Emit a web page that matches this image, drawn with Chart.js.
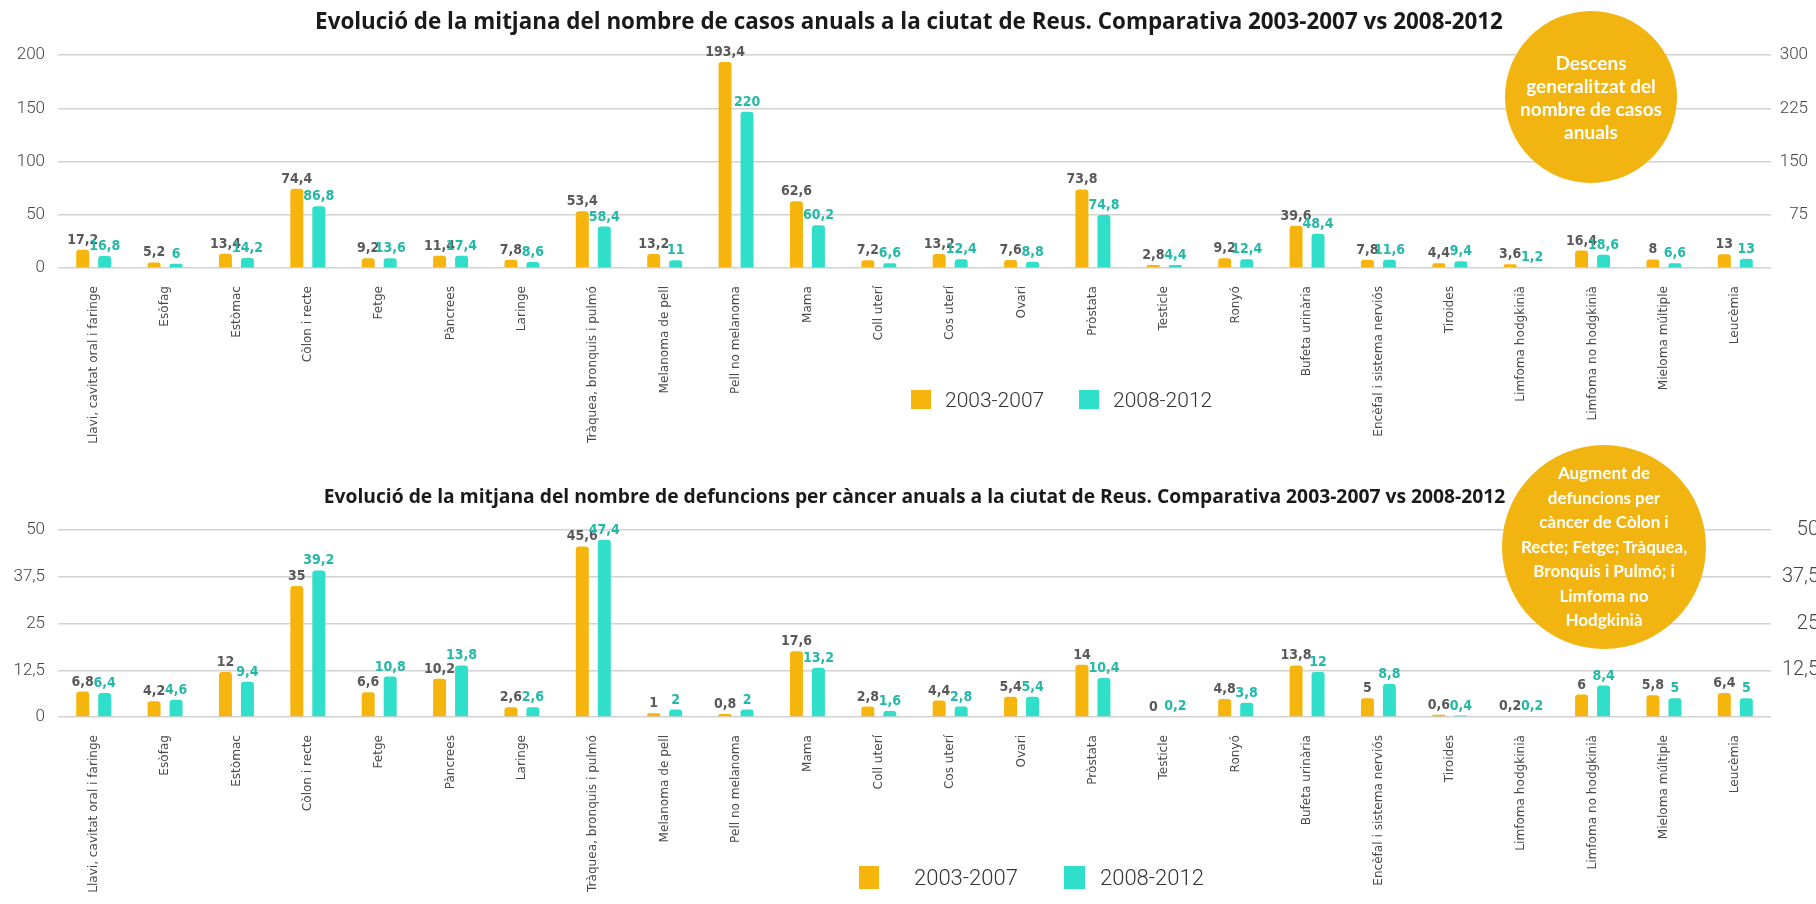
<!DOCTYPE html>
<html>
<head>
<meta charset="utf-8">
<script src="https://cdn.jsdelivr.net/npm/chart.js@4.4.1/dist/chart.umd.min.js"></script>
<style>
  html, body { margin: 0; padding: 0; background: #fff; }
  body { position: relative; width: 1816px; height: 904px; overflow: hidden; }
  canvas { position: absolute; left: 0; }
  #casos { top: 0; }
  #defuncions { top: 450px; }
  .circle {
    position: absolute; border-radius: 50%; background: #F2B410; color: #fff;
    font-family: Lato, sans-serif; font-weight: bold; text-align: center;
    display: flex; align-items: center; justify-content: center;
  }
  .box { position: absolute; }
  .leg { position: absolute; font-family: Roboto, sans-serif; font-weight: 300; color: #333; line-height: 1; }
</style>
</head>
<body>
<canvas id="casos" width="1816" height="450"></canvas>
<canvas id="defuncions" width="1822" height="454"></canvas>

<div class="circle" style="left:1505px; top:11px; width:172px; height:172px; font-size:19px; line-height:23px;">Descens<br>generalitzat del<br>nombre de casos<br>anuals</div>
<div class="circle" style="left:1502px; top:445px; width:204px; height:204px; font-size:17px; line-height:24.5px;">Augment de<br>defuncions per<br>càncer de Còlon i<br>Recte; Fetge; Tràquea,<br>Bronquis i Pulmó; i<br>Limfoma no<br>Hodgkinià</div>

<div class="box" style="left:911px; top:390px; width:20px; height:19px; background:#F5B50C;"></div>
<div class="leg" style="left:945px; top:390px; font-size:21px;">2003-2007</div>
<div class="box" style="left:1079px; top:390px; width:20px; height:19px; background:#30DFC9;"></div>
<div class="leg" style="left:1113px; top:390px; font-size:21px;">2008-2012</div>

<div class="box" style="left:859px; top:866px; width:20px; height:23px; background:#F5B50C;"></div>
<div class="leg" style="left:914px; top:867px; font-size:22px;">2003-2007</div>
<div class="box" style="left:1064px; top:866px; width:21px; height:23px; background:#30DFC9;"></div>
<div class="leg" style="left:1100px; top:867px; font-size:22px;">2008-2012</div>

<script>
// categories (same for both charts)
const categories = [
  'Llavi, cavitat oral i faringe', 'Esòfag', 'Estòmac', 'Còlon i recte', 'Fetge', 'Pàncrees',
  'Laringe', 'Tràquea, bronquis i pulmó', 'Melanoma de pell', 'Pell no melanoma', 'Mama',
  'Coll uterí', 'Cos uterí', 'Ovari', 'Pròstata', 'Testicle', 'Ronyó', 'Bufeta urinària',
  'Encèfal i sistema nerviós', 'Tiroides', 'Limfoma hodgkinià', 'Limfoma no hodgkinià',
  'Mieloma múltiple', 'Leucèmia'
];

// casos anuals
const casos2003 = [17.2, 5.2, 13.4, 74.4, 9.2, 11.4, 7.8, 53.4, 13.2, 193.4, 62.6, 7.2, 13.2, 7.6, 73.8, 2.8, 9.2, 39.6, 7.8, 4.4, 3.6, 16.4, 8, 13];
const casos2008 = [16.8, 6, 14.2, 86.8, 13.6, 17.4, 8.6, 58.4, 11, 220, 60.2, 6.6, 12.4, 8.8, 74.8, 4.4, 12.4, 48.4, 11.6, 9.4, 1.2, 18.6, 6.6, 13];

// defuncions anuals
const defuncions2003 = [6.8, 4.2, 12, 35, 6.6, 10.2, 2.6, 45.6, 1, 0.8, 17.6, 2.8, 4.4, 5.4, 14, 0, 4.8, 13.8, 5, 0.6, 0.2, 6, 5.8, 6.4];
const defuncions2008 = [6.4, 4.6, 9.4, 39.2, 10.8, 13.8, 2.6, 47.4, 2, 2, 13.2, 1.6, 2.8, 5.4, 10.4, 0.2, 3.8, 12, 8.8, 0.4, 0.2, 8.4, 5, 5];

const seriesNames = ['2003-2007', '2008-2012'];
const titleCasos = 'Evolució de la mitjana del nombre de casos anuals a la ciutat de Reus. Comparativa 2003-2007 vs 2008-2012';
const titleDefuncions = 'Evolució de la mitjana del nombre de defuncions per càncer anuals a la ciutat de Reus. Comparativa 2003-2007 vs 2008-2012';

const ORANGE = '#F5B50C';
const TEAL = '#30DFC9';
const TITLE_FAMILY = '"Open Sans", Lato, sans-serif';
const XTICK_FAMILY = '"DejaVu Sans", sans-serif';

const fmt = v => String(v).replace('.', ',');

// pick a font size so a text fills a wanted width
const measureCtx = document.createElement('canvas').getContext('2d');
function sizeFor(text, family, weight, wanted) {
  measureCtx.font = weight + ' 20px ' + family;
  return 20 * wanted / measureCtx.measureText(text).width;
}
const xTickSize = Math.min(15, sizeFor(categories[0], XTICK_FAMILY, 'normal', 158));

// value labels above each bar
const valueLabels = {
  id: 'valueLabels',
  afterDatasetsDraw(chart) {
    const ctx = chart.ctx;
    ctx.save();
    ctx.font = 'bold 14px "Liberation Sans Narrow", "DejaVu Sans Condensed", sans-serif';
    ctx.textAlign = 'center';
    ctx.textBaseline = 'alphabetic';
    chart.data.datasets.forEach((ds, i) => {
      ctx.fillStyle = ds.labelColor;
      chart.getDatasetMeta(i).data.forEach((bar, j) => {
        ctx.fillText(fmt(ds.data[j]), bar.x, bar.y - 6);
      });
    });
    ctx.restore();
  }
};

function makeDatasets(a, b, axisB) {
  const common = {
    categoryPercentage: 0.616,
    barPercentage: 0.59,
    borderRadius: { topLeft: 3, topRight: 3 },
    borderSkipped: 'start'
  };
  return [
    Object.assign({ label: seriesNames[0], data: a, backgroundColor: ORANGE, labelColor: '#595959', yAxisID: 'y' }, common),
    Object.assign({ label: seriesNames[1], data: b, backgroundColor: TEAL, labelColor: '#22B9A6', yAxisID: axisB }, common)
  ];
}

// plot area runs from x=58 to x=1771 in both charts
function makeOptions(cfg) {
  const tSize = sizeFor(cfg.title, TITLE_FAMILY, 'bold', cfg.titleWidth);
  const lh = tSize * 1.2;
  const tickFont = { family: 'Roboto', size: 17, weight: '300' };
  return {
    responsive: false,
    animation: false,
    layout: { padding: { left: cfg.leftPad, right: cfg.rightPad, top: 0, bottom: 0 } },
    plugins: {
      legend: { display: false },
      tooltip: { enabled: false },
      title: {
        display: true,
        text: cfg.title,
        color: '#1a1a1a',
        font: { family: TITLE_FAMILY, size: tSize, weight: 'bold', lineHeight: 1.2 },
        padding: { top: cfg.titleY - lh / 2, bottom: cfg.plotTop - cfg.titleY - lh / 2 }
      }
    },
    scales: {
      x: {
        offset: true,
        grid: { display: false },
        border: { display: false },
        ticks: {
          autoSkip: false, minRotation: 90, maxRotation: 90, padding: 10,
          color: '#4a4a4a', font: { family: XTICK_FAMILY, size: xTickSize }
        },
        afterFit: s => { s.height = cfg.xHeight; }
      },
      y: {
        position: 'left', min: 0, max: cfg.yMax,
        ticks: { stepSize: cfg.yStep, padding: 13, color: '#444', font: tickFont, callback: v => fmt(v) },
        grid: { color: '#d2d2d2', lineWidth: 1.5, drawTicks: false },
        border: { display: false },
        afterFit: s => { s.width = 58 - cfg.leftPad; }
      },
      y2: {
        position: 'right', min: 0, max: cfg.y2Max,
        ticks: {
          stepSize: cfg.y2Step, crossAlign: 'far', color: '#444',
          font: { family: 'Roboto', size: cfg.rightSize, weight: '300' },
          callback: v => v === 0 ? '' : fmt(v)
        },
        grid: { drawOnChartArea: false, drawTicks: false },
        border: { display: false },
        afterFit: s => { s.width = cfg.rightWidth; }
      }
    }
  };
}

new Chart(document.getElementById('casos'), {
  type: 'bar',
  data: { labels: categories, datasets: makeDatasets(casos2003, casos2008, 'y2') },
  options: makeOptions({
    title: titleCasos, titleWidth: 1189, titleY: 23, plotTop: 55,
    yMax: 200, yStep: 50, y2Max: 300, y2Step: 75,
    xHeight: 182, leftPad: 10, rightWidth: 37, rightPad: 8, rightSize: 17
  }),
  plugins: [valueLabels]
});

new Chart(document.getElementById('defuncions'), {
  type: 'bar',
  data: { labels: categories, datasets: makeDatasets(defuncions2003, defuncions2008, 'y') },
  options: makeOptions({
    title: titleDefuncions, titleWidth: 1183, titleY: 48, plotTop: 80,
    yMax: 50, yStep: 12.5, y2Max: 50, y2Step: 12.5,
    xHeight: 187, leftPad: 10, rightWidth: 48, rightPad: 3, rightSize: 20
  }),
  plugins: [valueLabels]
});
</script>
</body>
</html>
